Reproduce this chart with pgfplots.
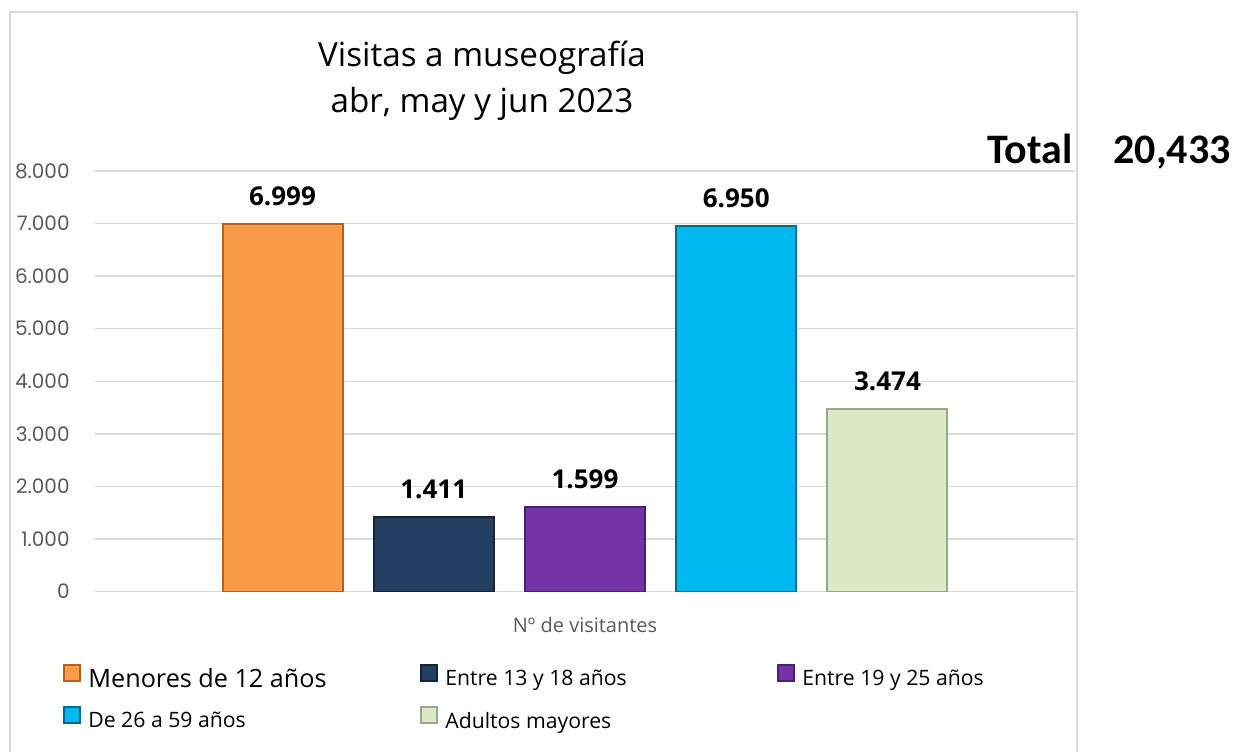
\documentclass[border=0pt]{standalone}
\usepackage{fontspec}
\usepackage{pgfplots}
\pgfplotsset{compat=1.18}
\setmainfont{Open Sans}
\newfontfamily\tickfont{Poppins}
\newfontfamily\totalfont{Carlito}
\definecolor{gridgray}{HTML}{D9D9D9}
\definecolor{tickgray}{HTML}{595959}
\definecolor{cOrange}{HTML}{F99B48}
\definecolor{cOrangeD}{HTML}{B5611F}
\definecolor{cNavy}{HTML}{243F62}
\definecolor{cNavyD}{HTML}{14253A}
\definecolor{cPurple}{HTML}{7434A8}
\definecolor{cPurpleD}{HTML}{4A1F6E}
\definecolor{cCyan}{HTML}{00B8F0}
\definecolor{cCyanD}{HTML}{006A8C}
\definecolor{cGreen}{HTML}{DCE8C6}
\definecolor{cGreenD}{HTML}{9AA688}
\newcommand{\lstrut}{\rule[-3pt]{0pt}{11pt}}
\begin{document}
\begin{tikzpicture}
\begin{axis}[
  at={(0,0)}, anchor=south west,
  scale only axis, width=490pt, height=210.25pt,
  xmin=-1.24, xmax=5.24, ymin=0, ymax=8000,
  ybar, bar width=60pt,
  ytick={0,1000,...,8000},
  xtick=\empty,
  ymajorgrids, grid style={color=gridgray, line width=0.75pt},
  major tick length=0pt,
  axis line style={draw=none},
  /pgf/number format/.cd, 1000 sep={.}, assume math mode=true, /pgfplots/.cd,
  scaled y ticks=false,
  yticklabel style={font=\tickfont\fontsize{10}{12}\selectfont, text=tickgray, inner sep=0pt, xshift=-12.5pt},
  nodes near coords,
  every node near coord/.append style={font=\bfseries\fontsize{13}{15}\selectfont, anchor=base, yshift=9.25pt, text=black},
  xlabel={Nº de visitantes},
  xlabel style={at={(axis description cs:0.5,0)}, anchor=base, yshift=-20.25pt, font=\fontsize{10}{12}\selectfont, text=tickgray},
  legend image code/.code={\fill[#1] (0pt,-1pt) rectangle (8pt,7pt);},
  legend columns=3,
  legend style={at={(axis description cs:0,0)}, anchor=north west, xshift=-16pt, yshift=-36.25pt, draw=none, fill=none, inner sep=0pt, row sep=8pt, nodes={inner sep=0pt},
    /tikz/every odd column/.style={column sep=3.5pt},
    /tikz/every even column/.style={column sep=26pt}},
]
\addplot[fill=cOrange, draw=cOrangeD, line width=1pt, bar shift=0pt] coordinates {(0,6999)};
\addlegendentry{\makebox[140pt][l]{\lstrut\fontsize{12.6}{15}\selectfont Menores de 12 años}}
\addplot[fill=cNavy, draw=cNavyD, line width=1pt, bar shift=0pt] coordinates {(1,1411)};
\addlegendentry{\makebox[140pt][l]{\lstrut\fontsize{10.6}{12}\selectfont Entre 13 y 18 años}}
\addplot[fill=cPurple, draw=cPurpleD, line width=1pt, bar shift=0pt] coordinates {(2,1599)};
\addlegendentry{\makebox[140pt][l]{\lstrut\fontsize{10.6}{12}\selectfont Entre 19 y 25 años}}
\addplot[fill=cCyan, draw=cCyanD, line width=1pt, bar shift=0pt] coordinates {(3,6950)};
\addlegendentry{\makebox[140pt][l]{\lstrut\fontsize{10.6}{12}\selectfont De 26 a 59 años}}
\addplot[fill=cGreen, draw=cGreenD, line width=1pt, bar shift=0pt] coordinates {(4,3474)};
\addlegendentry{\makebox[140pt][l]{\lstrut\fontsize{10.6}{12}\selectfont Adultos mayores}}
\end{axis}
\draw[color=gridgray, line width=0.75pt] (-42.5pt,-85pt) -- (-42.5pt,289.75pt) -- (491pt,289.75pt) -- (491pt,-85pt);
\node[anchor=base, inner sep=0pt, font=\fontsize{16.6}{19}\selectfont] at (193.5pt,262.25pt) {Visitas a museografía};
\node[anchor=base, inner sep=0pt, font=\fontsize{16.6}{19}\selectfont] at (193.5pt,239.75pt) {abr, may y jun 2023};
\node[anchor=base east, inner sep=0pt, font=\totalfont\bfseries\fontsize{21}{25}\selectfont] at (489pt,214.25pt) {Total};
\node[anchor=base west, inner sep=0pt, font=\totalfont\bfseries\fontsize{21}{25}\selectfont] at (509pt,214.25pt) {20,433};
\pgfresetboundingbox
\path (-47.5pt,-79.75pt) rectangle (569.5pt,295.75pt);
\end{tikzpicture}
\end{document}
